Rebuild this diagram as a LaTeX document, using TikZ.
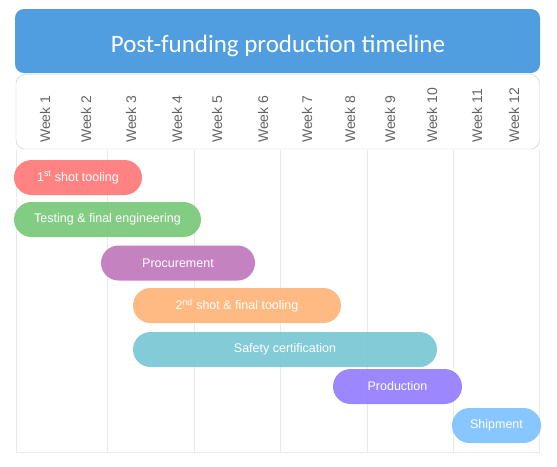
\documentclass[tikz,border=0pt]{standalone}
\usepackage{fontspec}
\setmainfont{Liberation Sans}
\newfontfamily\titlefont{Carlito}
\usepackage{xcolor}
\usetikzlibrary{positioning}
\definecolor{titleblue}{RGB}{80, 157, 224}
\definecolor{weekgray}{RGB}{100, 100, 100}
\definecolor{gridgray}{RGB}{234, 234, 234}
\definecolor{headgray}{RGB}{200, 200, 200}
\definecolor{barred}{RGB}{255, 122, 122}
\definecolor{bargreen}{RGB}{122, 200, 122}
\definecolor{barpurple}{RGB}{192, 120, 188}
\definecolor{barorange}{RGB}{255, 180, 120}
\definecolor{barteal}{RGB}{122, 200, 212}
\definecolor{barviolet}{RGB}{148, 126, 255}
\definecolor{barblue}{RGB}{126, 194, 255}

\begin{document}
\begin{tikzpicture}[
    x=1pt, y=-1pt,
    week/.style={rotate=90, anchor=west, text=weekgray, font=\fontsize{14}{16}\selectfont, inner sep=0pt},
    bar/.style={rectangle, rounded corners=17.5pt, fill opacity=0.93, text opacity=1, text=white, minimum height=35pt, inner sep=0pt, font=\fontsize{12.5}{14}\selectfont, text centered},
    gridline/.style={draw=gridgray, line width=1pt}
]
\useasboundingbox (0,0) rectangle (557,466);

% Title
\fill[titleblue, rounded corners=9pt] (15,9) rectangle (540,73);
\node[text=white, font=\titlefont\fontsize{25}{30}\selectfont] (title) at (278,46) {Post-funding production timeline};

% Week header
\draw[headgray, rounded corners=9pt] (16,74.5) rectangle (539.5,149);
\node[week] (w1) at (45,143) {Week 1};
\node[week] (w2) at (86,143) {Week 2};
\node[week] (w3) at (131,143) {Week 3};
\node[week] (w4) at (177,143) {Week 4};
\node[week] (w5) at (217,143) {Week 5};
\node[week] (w6) at (263,143) {Week 6};
\node[week] (w7) at (307,143) {Week 7};
\node[week] (w8) at (350,143) {Week 8};
\node[week] (w9) at (390,143) {Week 9};
\node[week] (w10) at (432,143) {Week 10};
\node[week] (w11) at (477,143) {Week 11};
\node[week] (w12) at (514,143) {Week 12};

% Grid
\draw[gridline] (16,150) -- (16,452) -- (539,452) -- (539,150);
\draw[gridline] (107,150) -- (107,452);
\draw[gridline] (194,150) -- (194,452);
\draw[gridline] (280,150) -- (280,452);
\draw[gridline] (367,150) -- (367,452);
\draw[gridline] (453,150) -- (453,452);

% Tasks
\node[bar, fill=barred, minimum width=128pt] (tooling1) at (78,177.5) {1\textsuperscript{st} shot tooling};
\node[bar, fill=bargreen, minimum width=187pt] (testing) at (107.5,219.5) {Testing \& final engineering};
\node[bar, fill=barpurple, minimum width=154pt] (procure) at (178,263) {Procurement};
\node[bar, fill=barorange, minimum width=208pt] (tooling2) at (237,305.5) {2\textsuperscript{nd} shot \& final tooling};
\node[bar, fill=barteal, minimum width=304pt] (safety) at (285,349.5) {Safety certification};
\node[bar, fill=barviolet, minimum width=129pt] (production) at (397.5,386.5) {Production};
\node[bar, fill=barblue, minimum width=89pt] (shipment) at (496.5,425.5) {Shipment};

\end{tikzpicture}
\end{document}
